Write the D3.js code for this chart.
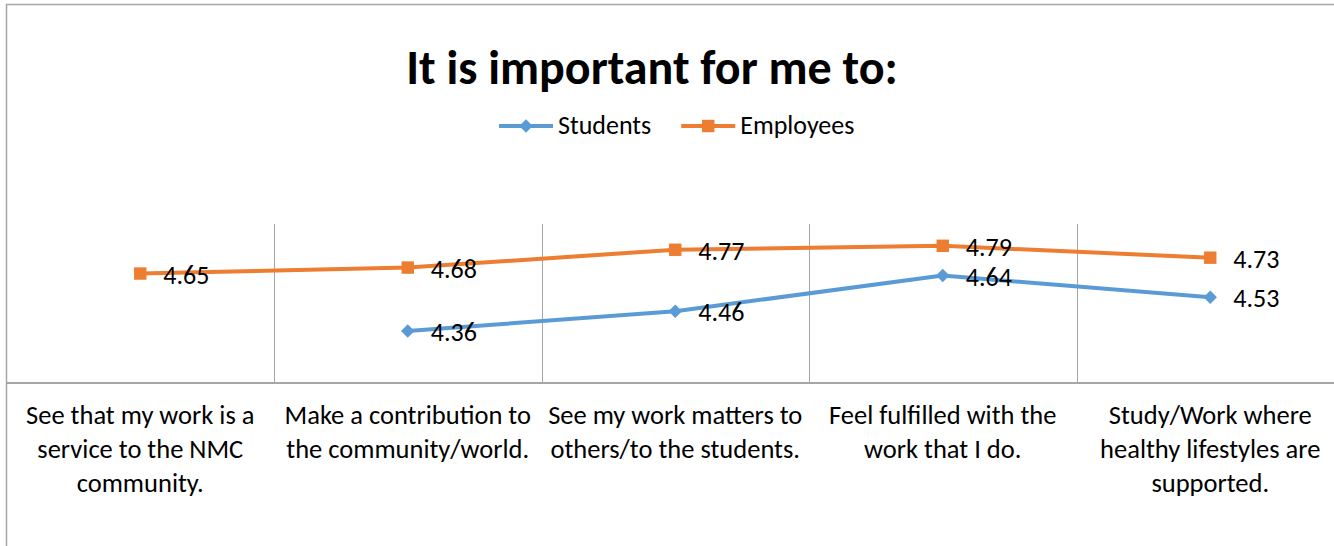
<!DOCTYPE html>
<html>
<head>
<meta charset="utf-8">
<script src="https://cdn.jsdelivr.net/npm/d3@7"></script>
<style>
  body { margin: 0; background: #fff; }
  svg { display: block; font-family: Carlito, Calibri, Lato, sans-serif; }
</style>
</head>
<body>
<div id="app"></div>
<script>
// data
var categories = [
  "See that my work is a\nservice to the NMC\ncommunity.",
  "Make a contribution to\nthe community/world.",
  "See my work matters to\nothers/to the students.",
  "Feel fulfilled with the\nwork that I do.",
  "Study/Work where\nhealthy lifestyles are\nsupported."
];
var students = [null, 4.36, 4.46, 4.64, 4.53];
var employees = [4.65, 4.68, 4.77, 4.79, 4.73];
var seriesNames = ["Students", "Employees"];
var seriesColors = ["#5B9BD5", "#ED7D31"];
var yDomain = [4.1, 4.9];

var width = 1334, height = 546;
var font = "Carlito, Calibri, Lato, sans-serif";

var svg = d3.select("#app")
  .append("svg")
    .attr("width", width)
    .attr("height", height);

// chart border (runs off the right/bottom like the original)
svg.append("rect")
  .attr("x", 6.5).attr("y", 4.5)
  .attr("width", 1400).attr("height", 600)
  .attr("fill", "none")
  .attr("stroke", "#A6A6A6")
  .attr("stroke-width", 1.5);

// scales
var x = d3.scaleBand()
  .domain(categories)
  .range([6.5, 6.5 + 5 * 267.5]);

var y = d3.scaleLinear()
  .domain(yDomain)
  .range([382.5, 224]);

// vertical gridlines between categories
svg.append("g")
  .selectAll("line")
  .data(categories.slice(1))
  .join("line")
    .attr("x1", d => Math.round(x(d)) + 0.5)
    .attr("x2", d => Math.round(x(d)) + 0.5)
    .attr("y1", y(yDomain[1]))
    .attr("y2", y(yDomain[0]))
    .attr("stroke", "#A6A6A6")
    .attr("stroke-width", 1);

// category axis
var xAxis = svg.append("g")
  .attr("transform", "translate(0," + y(yDomain[0]) + ")")
  .call(d3.axisBottom(x).tickSize(0).tickFormat(""))
  .attr("font-family", font);
xAxis.select(".domain")
  .attr("stroke", "#A6A6A6")
  .attr("stroke-width", 2);

// wrapped category labels
xAxis.selectAll(".tick").each(function(d) {
  var t = d3.select(this).append("text")
    .attr("fill", "#000")
    .attr("text-anchor", "middle")
    .style("font-size", "26.5px")
    .attr("y", 41);
  d.split("\n").forEach(function(line, i) {
    t.append("tspan")
      .attr("x", 0)
      .attr("dy", i === 0 ? 0 : 34)
      .text(line);
  });
});

// title
svg.append("text")
  .attr("x", 652)
  .attr("y", 84)
  .attr("text-anchor", "middle")
  .style("font-size", "48px")
  .style("font-weight", "bold")
  .text("It is important for me to:");

// lines
var line = d3.line()
  .defined(d => d.v != null)
  .x(d => x(d.c) + x.bandwidth() / 2)
  .y(d => y(d.v));

var series = [students, employees].map(function(vals, i) {
  return {
    name: seriesNames[i],
    color: seriesColors[i],
    points: vals.map((v, j) => ({ c: categories[j], v: v }))
  };
});

function markerSymbol(i) {
  return d3.symbol()
    .type(i === 0 ? d3.symbolDiamond2 : d3.symbolSquare2)
    .size(i === 0 ? 115 : 196);
}

series.forEach(function(s, i) {
  var g = svg.append("g");
  g.append("path")
    .datum(s.points)
    .attr("d", line)
    .attr("fill", "none")
    .attr("stroke", s.color)
    .attr("stroke-width", 4)
    .attr("stroke-linejoin", "round");

  var pts = s.points.filter(d => d.v != null);
  g.selectAll(".marker")
    .data(pts)
    .join("path")
      .attr("class", "marker")
      .attr("transform", d => "translate(" + (x(d.c) + x.bandwidth() / 2) + "," + y(d.v) + ")")
      .attr("d", markerSymbol(i))
      .attr("fill", s.color);

  g.selectAll(".lbl")
    .data(pts)
    .join("text")
      .attr("class", "lbl")
      .attr("x", d => x(d.c) + x.bandwidth() / 2 + 23)
      .attr("y", d => y(d.v) + 10)
      .style("font-size", "26px")
      .attr("fill", "#000")
      .text(d => d.v.toFixed(2));
});

// legend
var legend = svg.append("g");
var lx = 499;
series.forEach(function(s, i) {
  var item = legend.append("g").attr("transform", "translate(" + lx + ",126)");
  item.append("line")
    .attr("x1", 0).attr("x2", 54)
    .attr("stroke", s.color)
    .attr("stroke-width", 4);
  item.append("path")
    .attr("transform", "translate(27,0)")
    .attr("d", markerSymbol(i))
    .attr("fill", s.color);
  var t = item.append("text")
    .attr("x", 59)
    .attr("y", 8)
    .style("font-size", "26px")
    .attr("fill", "#000")
    .text(s.name);
  lx += 59 + t.node().getComputedTextLength() + 30;
});
</script>
</body>
</html>
